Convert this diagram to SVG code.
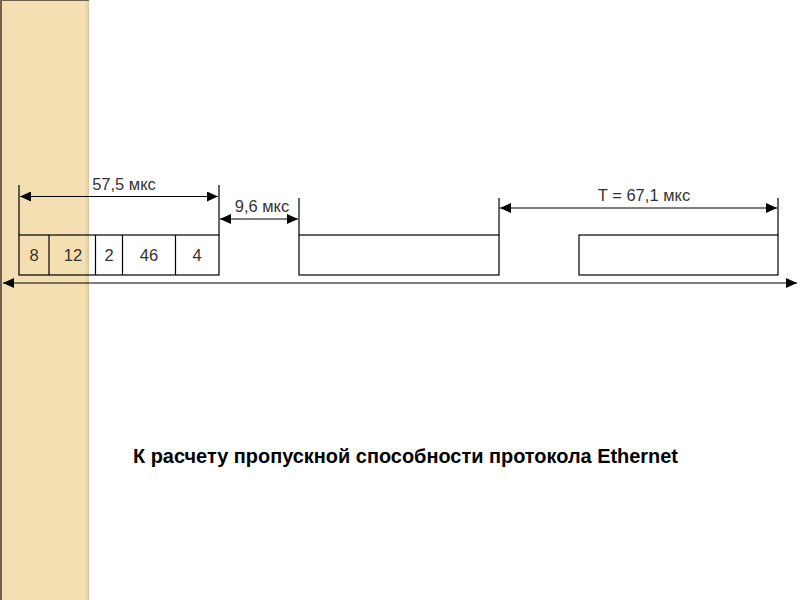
<svg xmlns="http://www.w3.org/2000/svg" width="800" height="600" viewBox="0 0 800 600">
<style>
.ln{stroke:#000;stroke-width:1.2;fill:none}
.box{stroke:#000;stroke-width:1.2;fill:none}
.lbl{font-family:"Liberation Sans",Arial,sans-serif;font-size:16.5px;fill:#333;text-anchor:middle}
.num{font-family:"Liberation Sans",Arial,sans-serif;font-size:16.5px;fill:#333;text-anchor:middle}
.title{font-family:"Liberation Sans",Arial,sans-serif;font-size:20px;font-weight:bold;fill:#000}
</style>
<defs>
<marker id="ah" viewBox="0 0 11 10" refX="11" refY="5" markerWidth="11" markerHeight="10" markerUnits="userSpaceOnUse" orient="auto-start-reverse">
<path d="M0,0 L11,5 L0,10 Z" fill="#000"/>
</marker>
<linearGradient id="edge" x1="0" x2="1" y1="0" y2="0">
<stop offset="0" stop-color="#F3DFB0"/>
<stop offset="1" stop-color="#D9C59A"/>
</linearGradient>
</defs>
<rect width="800" height="600" fill="#fff"/>
<g id="strip">
<rect x="0" y="0" width="89" height="600" fill="#F3DFB1"/>
<rect x="85" y="0" width="4" height="600" fill="url(#edge)"/>
<rect x="0" y="0" width="2" height="600" fill="#6E6150"/>
<rect x="0" y="0" width="89" height="1" fill="#6E6150"/>
</g>
<g id="frame1">
<rect class="box" x="19" y="235" width="200" height="40"/>
<line class="ln" x1="49" y1="235" x2="49" y2="275"/>
<line class="ln" x1="95.5" y1="235" x2="95.5" y2="275"/>
<line class="ln" x1="122.5" y1="235" x2="122.5" y2="275"/>
<line class="ln" x1="175.5" y1="235" x2="175.5" y2="275"/>
<text class="num" x="34" y="261">8</text>
<text class="num" x="73" y="261">12</text>
<text class="num" x="109" y="261">2</text>
<text class="num" x="149" y="261">46</text>
<text class="num" x="197" y="261">4</text>
</g>
<g id="frame2">
<rect class="box" x="299" y="235" width="200" height="40"/>
</g>
<g id="frame3">
<rect class="box" x="579" y="235" width="199" height="40"/>
</g>
<g id="connectors">
<line class="ln" x1="19" y1="185" x2="19" y2="235"/>
<line class="ln" x1="219" y1="185" x2="219" y2="235"/>
<line class="ln" x1="299" y1="198" x2="299" y2="235"/>
<line class="ln" x1="499" y1="198" x2="499" y2="235"/>
<line class="ln" x1="778" y1="198" x2="778" y2="235"/>
<line class="ln" x1="20" y1="196.5" x2="218" y2="196.5" marker-start="url(#ah)" marker-end="url(#ah)"/>
<line class="ln" x1="220" y1="219" x2="298" y2="219" marker-start="url(#ah)" marker-end="url(#ah)"/>
<line class="ln" x1="500" y1="208" x2="777" y2="208" marker-start="url(#ah)" marker-end="url(#ah)"/>
<line class="ln" x1="3" y1="283" x2="797" y2="283" marker-start="url(#ah)" marker-end="url(#ah)"/>
</g>
<g id="labels">
<text class="lbl" x="124" y="190">57,5 мкс</text>
<text class="lbl" x="262" y="212">9,6 мкс</text>
<text class="lbl" x="644" y="201">T = 67,1 мкс</text>
<text class="title" x="133" y="463" textLength="545" lengthAdjust="spacingAndGlyphs">К расчету пропускной способности протокола Ethernet</text>
</g>
</svg>
